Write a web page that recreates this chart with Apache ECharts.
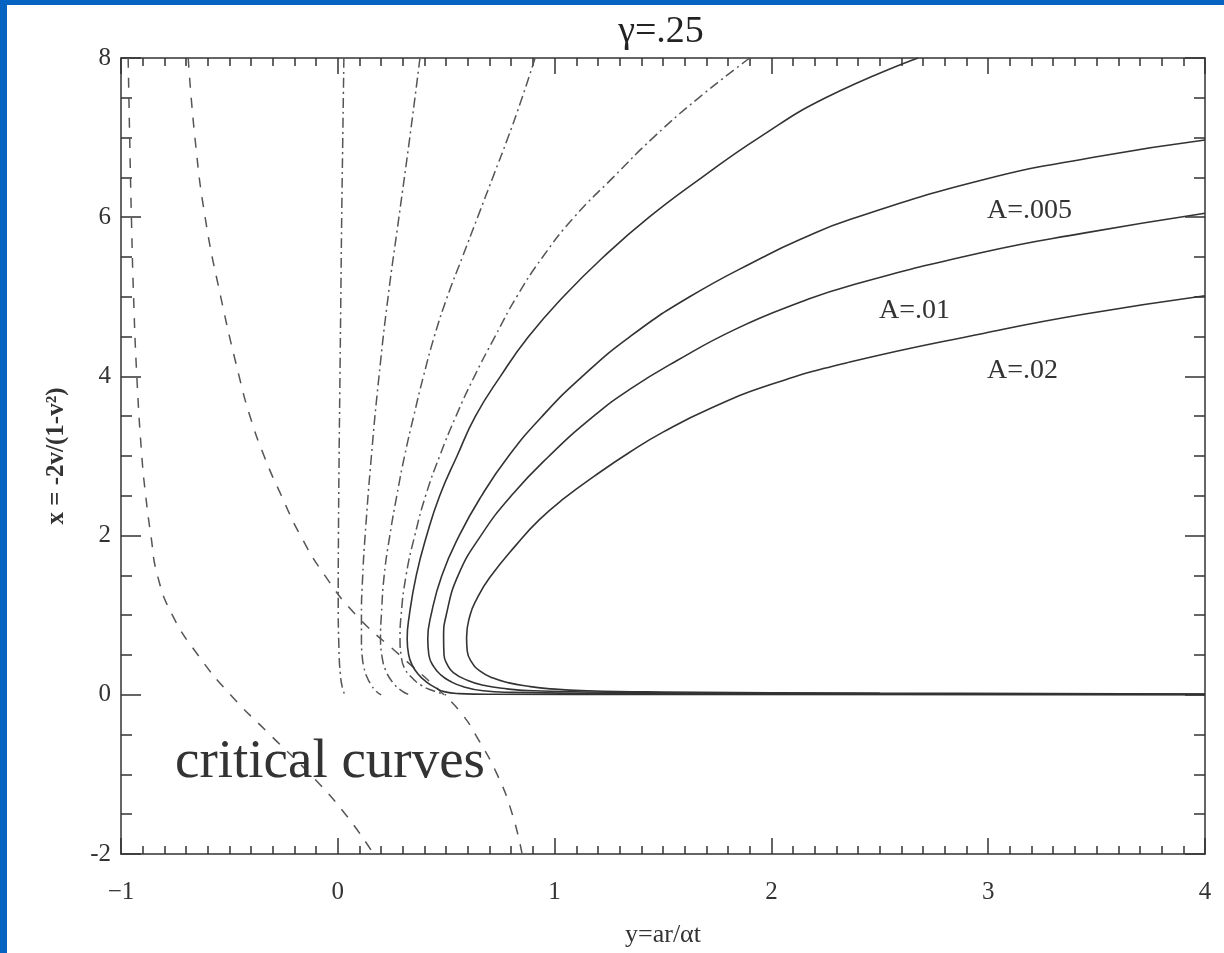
<!DOCTYPE html>
<html>
<head>
<meta charset="utf-8">
<script src="https://cdn.jsdelivr.net/npm/echarts@6/dist/echarts.min.js"></script>
<style>
html,body{margin:0;padding:0;background:#fff;}
#chart{width:1224px;height:953px;}
</style>
</head>
<body>
<div id="chart"></div>
<script>
// ---- axis ticks ----
const xTicks = [-1, 0, 1, 2, 3, 4];
const yTicks = [-2, 0, 2, 4, 6, 8];

// ---- critical curves (dashed), points [y-axis value, x-axis value] = [ar/αt, -2v/(1-v²)] ----
const critical1 = [[-0.967,8],[-0.96,7],[-0.952,6],[-0.942,5],[-0.927,4],[-0.904,3],[-0.886,2.5],[-0.862,2],[-0.832,1.5],[-0.763,1],[-0.645,0.5],[-0.495,0],[-0.313,-0.5],[-0.127,-1],[0.035,-1.5],[0.165,-2]];
const critical2 = [[-0.69,8],[-0.659,7],[-0.612,6],[-0.54,5],[-0.455,4],[-0.405,3.5],[-0.34,3],[-0.26,2.5],[-0.172,2],[-0.06,1.5],[0.085,1],[0.285,0.5],[0.49,0],[0.575,-0.25],[0.635,-0.5],[0.735,-1],[0.805,-1.5],[0.85,-2]];

// ---- dash-dot curves ----
const dashdot1 = [[0.028,8],[0.023,7],[0.018,6],[0.014,5],[0.01,4],[0.006,3],[0.003,2],[0.002,1.2],[0.005,0.6],[0.012,0.25],[0.022,0.08],[0.033,0]];
const dashdot2 = [[0.379,8],[0.332,7],[0.282,6],[0.232,5],[0.19,4],[0.155,3],[0.126,2],[0.115,1.5],[0.109,1],[0.109,0.7],[0.112,0.5],[0.12,0.35],[0.135,0.22],[0.155,0.12],[0.175,0.05],[0.2,0]];
const dashdot3 = [[0.91,8],[0.85,7.5],[0.785,7],[0.715,6.5],[0.645,6],[0.575,5.5],[0.505,5],[0.445,4.5],[0.395,4],[0.35,3.5],[0.308,3],[0.272,2.5],[0.24,2],[0.214,1.5],[0.201,1],[0.197,0.72],[0.203,0.5],[0.222,0.3],[0.255,0.15],[0.295,0.05],[0.33,0]];
const dashdot4 = [[1.9,8],[1.665,7.5],[1.455,7],[1.27,6.5],[1.09,6],[0.945,5.5],[0.825,5],[0.725,4.5],[0.63,4],[0.545,3.5],[0.47,3],[0.405,2.5],[0.355,2],[0.315,1.5],[0.292,1],[0.287,0.7],[0.292,0.5],[0.305,0.35],[0.34,0.22],[0.385,0.12],[0.44,0.05],[0.5,0]];

// ---- solid curves ----
const solid1 = [[2.676,8],[2.25,7.5],[1.943,7],[1.68,6.5],[1.436,6],[1.225,5.5],[1.04,5],[0.88,4.5],[0.75,4],[0.635,3.5],[0.55,3],[0.47,2.5],[0.41,2],[0.362,1.5],[0.33,1],[0.32,0.7],[0.327,0.5],[0.342,0.38],[0.37,0.26],[0.405,0.17],[0.45,0.09],[0.49,0.04],[0.56,0.015],[0.7,0.006],[1.5,0.003],[4,0]];
const solid2 = [[4,6.97],[3.5,6.76],[2.977,6.47],[2.362,5.97],[2.132,5.72],[1.963,5.5],[1.623,5],[1.348,4.5],[1.128,4],[0.943,3.5],[0.788,3],[0.663,2.5],[0.56,2],[0.48,1.5],[0.43,1],[0.415,0.7],[0.42,0.5],[0.441,0.36],[0.475,0.25],[0.518,0.17],[0.58,0.1],[0.671,0.05],[0.8,0.03],[1.2,0.018],[2.5,0.008],[4,0.003]];
const solid3 = [[4,6.05],[3.44,5.8],[2.977,5.56],[2.362,5.14],[2.132,4.93],[1.84,4.6],[1.565,4.2],[1.348,3.84],[1.18,3.5],[0.975,3],[0.8,2.5],[0.66,2],[0.555,1.5],[0.5,1],[0.488,0.72],[0.49,0.5],[0.505,0.38],[0.533,0.28],[0.6,0.18],[0.671,0.12],[0.78,0.075],[0.902,0.05],[1.5,0.025],[2.5,0.012],[4,0.006]];
const solid4 = [[4,5.013],[3.44,4.78],[2.977,4.54],[2.362,4.18],[2.0,3.9],[1.72,3.6],[1.5,3.3],[1.348,3.05],[1.185,2.75],[1.045,2.47],[0.93,2.2],[0.825,1.89],[0.7,1.47],[0.64,1.2],[0.61,1],[0.594,0.72],[0.597,0.55],[0.615,0.42],[0.655,0.3],[0.717,0.21],[0.79,0.15],[0.87,0.11],[0.98,0.075],[1.15,0.05],[1.5,0.035],[2.5,0.022],[4,0.01]];

// ---- annotations ----
const titleText = 'γ=.25';
const xName = 'y=ar/αt';
const yName = 'x = -2v/(1-v²)';
const curveLabels = ['A=.005', 'A=.01', 'A=.02'];
const noteText = 'critical curves';

const SERIF = '"Liberation Serif", "DejaVu Serif", serif';
const AXIS_COLOR = '#333';

const chart = echarts.init(document.getElementById('chart'), null, {renderer: 'canvas'});

function lineSeries(data, kind) {
  let ls;
  if (kind === 'solid') ls = {color: '#333', width: 1.6, type: 'solid'};
  else if (kind === 'dashed') ls = {color: '#555', width: 1.5, type: [10, 10]};
  else ls = {color: '#555', width: 1.5, type: [10, 4, 2, 4]};
  return {
    type: 'line', data: data, showSymbol: false, symbol: 'none', smooth: 0.5,
    lineStyle: ls, clip: true, silent: true, animation: false, z: 3
  };
}

function xAxisCfg(pos, showLabels) {
  return {
    type: 'value', position: pos, min: xTicks[0], max: xTicks[xTicks.length - 1], interval: 1,
    axisLine: {show: true, onZero: false, lineStyle: {color: AXIS_COLOR, width: 1.5}},
    axisTick: {show: true, inside: true, length: 16, lineStyle: {color: AXIS_COLOR, width: 1.5}},
    minorTick: {show: true, splitNumber: 10, length: 8, lineStyle: {color: AXIS_COLOR, width: 1.5}},
    splitLine: {show: false}, minorSplitLine: {show: false},
    axisLabel: {
      show: showLabels, margin: 26, fontFamily: SERIF, fontSize: 25, color: '#333',
      formatter: v => (v < 0 ? '\u2212' + Math.abs(v) : String(v))
    },
    name: showLabels ? xName : '', nameLocation: 'middle', nameGap: 68,
    nameTextStyle: {fontFamily: SERIF, fontSize: 26, color: '#333'}
  };
}

function yAxisCfg(pos, showLabels) {
  return {
    type: 'value', position: pos, min: yTicks[0], max: yTicks[yTicks.length - 1], interval: 2,
    axisLine: {show: true, onZero: false, lineStyle: {color: AXIS_COLOR, width: 1.5}},
    axisTick: {show: true, inside: true, length: 20, lineStyle: {color: AXIS_COLOR, width: 1.5}},
    minorTick: {show: true, splitNumber: 4, length: 11, lineStyle: {color: AXIS_COLOR, width: 1.5}},
    splitLine: {show: false}, minorSplitLine: {show: false},
    axisLabel: {show: showLabels, margin: 10, fontFamily: SERIF, fontSize: 25, color: '#333'},
    name: showLabels ? yName : '', nameLocation: 'middle', nameGap: 52, nameRotate: 90,
    nameTextStyle: {fontFamily: SERIF, fontSize: 25, fontWeight: 'bold', color: '#333'}
  };
}

const option = {
  backgroundColor: '#ffffff',
  animation: false,
  grid: {left: 121, right: 19, top: 58, bottom: 96, containLabel: false},
  xAxis: [xAxisCfg('bottom', true), xAxisCfg('top', false)],
  yAxis: [yAxisCfg('left', true), yAxisCfg('right', false)],
  series: [
    lineSeries(critical1, 'dashed'),
    lineSeries(critical2, 'dashed'),
    lineSeries(dashdot1, 'dashdot'),
    lineSeries(dashdot2, 'dashdot'),
    lineSeries(dashdot3, 'dashdot'),
    lineSeries(dashdot4, 'dashdot'),
    lineSeries(solid1, 'solid'),
    lineSeries(solid2, 'solid'),
    lineSeries(solid3, 'solid'),
    lineSeries(solid4, 'solid')
  ],
  graphic: [
    {type: 'rect', left: 0, top: 0, shape: {width: 1224, height: 5}, style: {fill: '#0563c1'}, z: 100},
    {type: 'rect', left: 0, top: 0, shape: {width: 7, height: 953}, style: {fill: '#0563c1'}, z: 100},
    {type: 'text', x: 661, y: 32, style: {text: titleText, font: '38px ' + SERIF, fill: '#222', textAlign: 'center', textVerticalAlign: 'middle'}, z: 50},
    {type: 'text', x: 175, y: 763, style: {text: noteText, font: '55px ' + SERIF, fill: '#333', textAlign: 'left', textVerticalAlign: 'middle'}, z: 50},
    {type: 'text', x: 987, y: 211, style: {text: curveLabels[0], font: '28px ' + SERIF, fill: '#333', textAlign: 'left', textVerticalAlign: 'middle'}, z: 50},
    {type: 'text', x: 879, y: 311, style: {text: curveLabels[1], font: '28px ' + SERIF, fill: '#333', textAlign: 'left', textVerticalAlign: 'middle'}, z: 50},
    {type: 'text', x: 987, y: 371, style: {text: curveLabels[2], font: '28px ' + SERIF, fill: '#333', textAlign: 'left', textVerticalAlign: 'middle'}, z: 50}
  ]
};

chart.setOption(option);
</script>
</body>
</html>
